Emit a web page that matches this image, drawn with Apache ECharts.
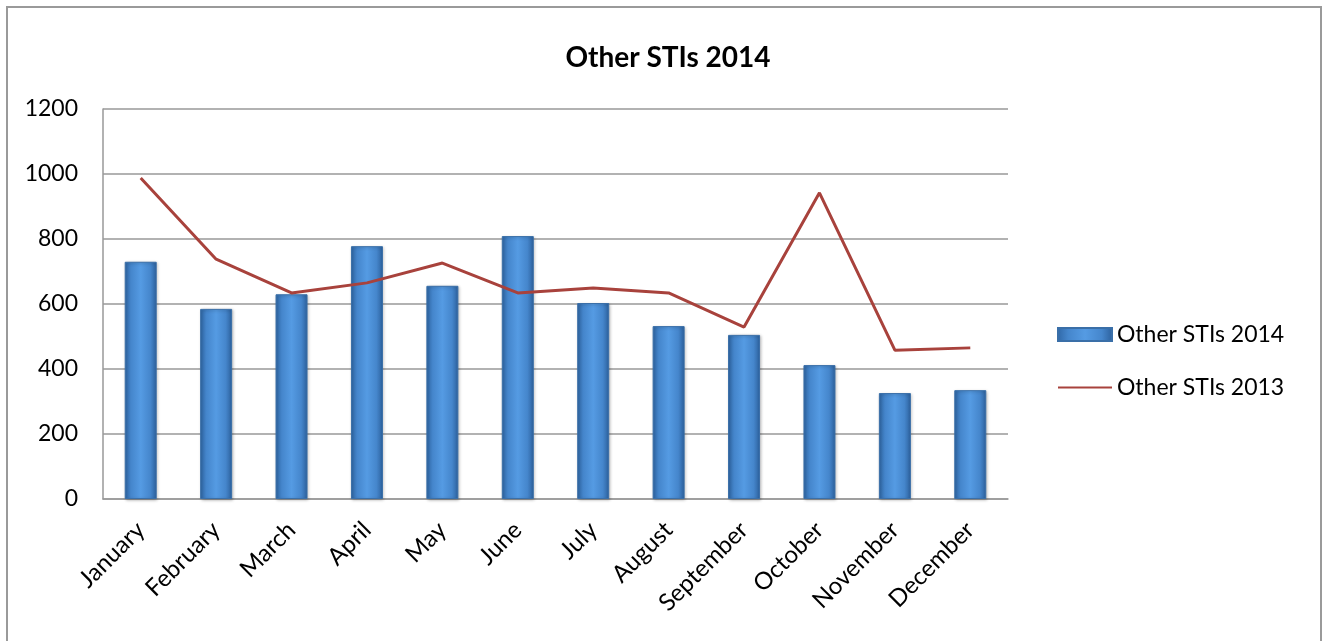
<!DOCTYPE html>
<html>
<head>
<meta charset="utf-8">
<script src="https://cdn.jsdelivr.net/npm/echarts@6/dist/echarts.min.js"></script>
<style>
  html, body { margin: 0; padding: 0; background: #fff; }
  #chart { width: 1325px; height: 641px; }
</style>
</head>
<body>
<div id="chart"></div>
<script>
  var months = ['January', 'February', 'March', 'April', 'May', 'June', 'July',
                'August', 'September', 'October', 'November', 'December'];
  var sti2014 = [730, 585, 630, 778, 656, 809, 603, 532, 505, 412, 326, 335];
  var sti2013 = [988, 738, 634, 665, 726, 634, 649, 634, 529, 942, 458, 465];
  var yTicks = [0, 200, 400, 600, 800, 1000, 1200];

  var font = 'Lato, "Open Sans", sans-serif';
  var mychart = echarts.init(document.getElementById('chart'));

  var barColor = new echarts.graphic.LinearGradient(0, 0, 1, 0, [
    { offset: 0, color: '#2f67a6' },
    { offset: 0.2, color: '#4586cc' },
    { offset: 0.5, color: '#559be3' },
    { offset: 0.8, color: '#4586cc' },
    { offset: 1, color: '#2c609c' }
  ]);

  var option = {
    backgroundColor: '#fff',
    animation: false,
    title: {
      text: 'Other STIs 2014',
      left: 663,
      top: 39,
      textAlign: 'center',
      textStyle: { fontFamily: font, fontSize: 28, fontWeight: 'bold', color: '#000' }
    },
    graphic: [{
      type: 'rect',
      shape: { x: 7, y: 7, width: 1314, height: 660 },
      style: { fill: 'none', stroke: '#9a9a9a', lineWidth: 2 },
      silent: true
    }],
    legend: {
      orient: 'vertical',
      left: 1052,
      top: 318,
      itemWidth: 54,
      itemHeight: 13,
      itemGap: 30,
      textStyle: { fontFamily: font, fontSize: 23, color: '#000' },
      data: [
        { name: 'Other STIs 2014', icon: 'rect' },
        { name: 'Other STIs 2013', itemStyle: { opacity: 0, color: 'rgba(0,0,0,0)', borderWidth: 0 } }
      ]
    },
    grid: {
      left: 103,
      right: 317,
      top: 109,
      bottom: 142,
      containLabel: false
    },
    xAxis: {
      type: 'category',
      data: months,
      axisLine: { lineStyle: { color: '#999', width: 1.5 } },
      axisTick: { show: false },
      axisLabel: {
        rotate: 45,
        margin: 27,
        interval: 0,
        fontFamily: font,
        fontSize: 24,
        color: '#000'
      }
    },
    yAxis: {
      type: 'value',
      min: yTicks[0],
      max: yTicks[yTicks.length - 1],
      interval: 200,
      axisLine: { show: true, lineStyle: { color: '#999', width: 1.5 } },
      axisTick: { show: false },
      splitLine: { lineStyle: { color: '#999', width: 1.5 } },
      axisLabel: {
        margin: 25,
        fontFamily: font,
        fontSize: 23,
        color: '#000',
        formatter: function (v) { return String(v); }
      }
    },
    series: [
      {
        name: 'Other STIs 2014',
        type: 'bar',
        barWidth: 32,
        itemStyle: {
          color: barColor,
          borderColor: '#3a6fa8',
          borderWidth: 1,
          shadowColor: 'rgba(0,0,0,0.25)',
          shadowBlur: 3,
          shadowOffsetX: 1,
          shadowOffsetY: 1
        },
        data: sti2014
      },
      {
        name: 'Other STIs 2013',
        type: 'line',
        symbol: 'none',
        lineStyle: { color: '#a8423c', width: 3 },
        itemStyle: { color: '#a8423c' },
        data: sti2013
      }
    ]
  };
  mychart.setOption(option);
</script>
</body>
</html>
